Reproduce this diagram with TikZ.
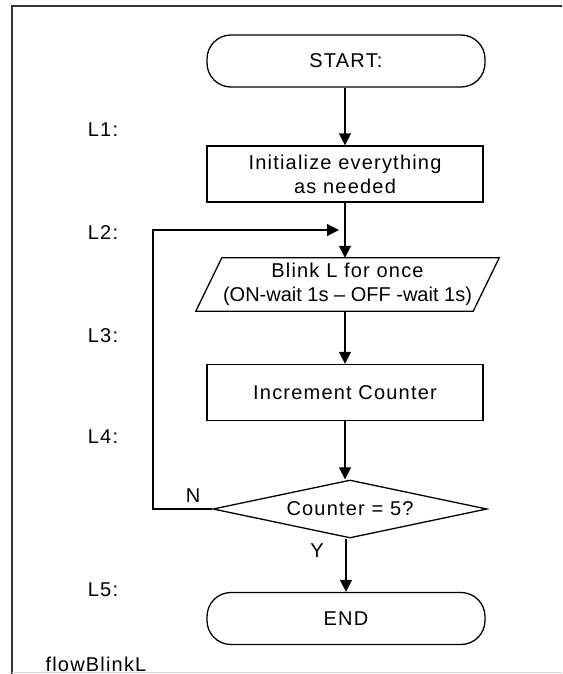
\documentclass[tikz,border=0pt]{standalone}
\usepackage{fontspec}
\setmainfont{Liberation Sans}[LetterSpace=6]
\usetikzlibrary{arrows.meta,shapes.geometric}
\begin{document}
\begin{tikzpicture}[x=1pt,y=-1pt,
  every node/.style={font=\fontsize{20}{24}\selectfont},
  lw/.style={line width=1.3pt},
  terminal/.style={draw,lw,rounded corners=24pt,minimum width=278pt,minimum height=52pt,inner sep=0pt},
  process/.style={draw,lw,rectangle,minimum width=276pt,minimum height=56pt,align=center,inner sep=0pt},
  iobox/.style={rectangle,minimum width=277pt,minimum height=53pt,align=center,inner sep=0pt},
  decision/.style={draw,lw,diamond,minimum width=274pt,minimum height=58pt,aspect=4.7,inner sep=0pt},
  flow/.style={lw,-{Triangle[width=12pt,length=12pt]}},
  linelabel/.style={anchor=center}]
\useasboundingbox (0,0) rectangle (562,674);

% outer frame
\draw[line width=1.6pt,black!80] (12,674) -- (12,6) -- (562,6);
\draw[line width=1pt,black!15] (12,672) -- (562,672);

% flow steps
\node[terminal] (start) at (346,61) {START:};
\node[process] (init) at (345,174) {Initialize everything\\as needed};
\node[iobox] (blink) at (347.5,284.5) {Blink L for once\\{\addfontfeature{LetterSpace=0}(ON-wait 1s – OFF -wait 1s)}};
\draw[lw] ([xshift=13pt]blink.north west) -- ([xshift=13pt]blink.north east)
  -- ([xshift=-13pt]blink.south east) -- ([xshift=-13pt]blink.south west) -- cycle;
\node[process] (inc) at (345,392.5) {Increment Counter};
\node[decision] (check) at (350,509) {Counter = 5?};
\node[terminal] (stop) at (346,618.5) {END};

% connectors
\draw[flow] (start.south -| init.north) -- (init.north);
\draw[flow] (init.south) -- (init.south |- blink.north);
\draw[flow] (blink.south -| inc.north) -- (inc.north);
\draw[flow] (inc.south) -- (inc.south |- check.north);
\draw[flow] (check.south -| stop.north) -- (stop.north);
\coordinate (merge) at (339,230);
\draw[flow] (check.west) -- (153,509) -- (153,230) -- (merge);

% branch labels
\node at (193,496) {N};
\node at (317,551) {Y};

% line labels
\node[linelabel] at (103,130) {L1:};
\node[linelabel] at (103,233) {L2:};
\node[linelabel] at (103,336) {L3:};
\node[linelabel] at (103,437) {L4:};
\node[linelabel] at (103,590) {L5:};
\node[anchor=west] at (42,664) {flowBlinkL};
\end{tikzpicture}
\end{document}
